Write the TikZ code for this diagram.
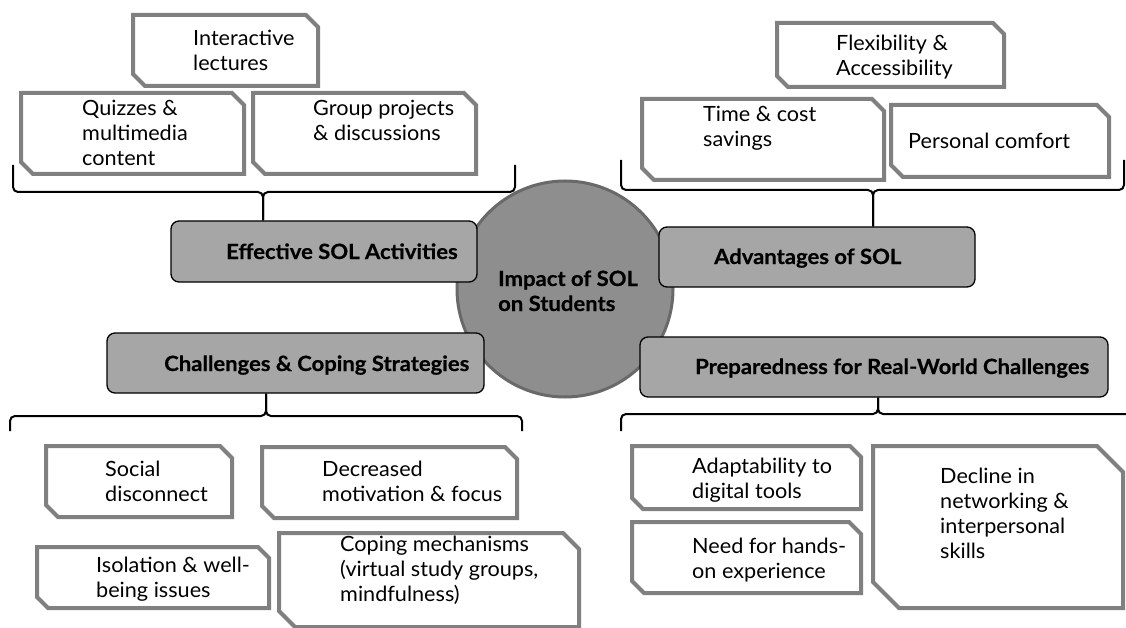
\documentclass[tikz,border=0pt]{standalone}
\usepackage{fontspec}
\setmainfont{Lato}[FakeStretch=1.03]
\newfontfamily\headfont{Lato}[FakeStretch=1.05, BoldFeatures={FakeBold=0.5}]
\usetikzlibrary{calc}
\definecolor{snipline}{RGB}{128,128,128}
\definecolor{headfill}{RGB}{166,166,166}
\definecolor{hubfill}{RGB}{142,142,142}
\definecolor{hubline}{RGB}{105,105,105}
% lines stacked in a \vtop, so the baseline is the first line's
\newcommand\stacklines[1]{\vtop{\def\\{\egroup\hbox\bgroup}\hbox{#1}}}
% white box with the top-right and bottom-left corners snipped off
\newcommand\snipbox[5]{\draw[snip] (#1,#2) -- ({#3-#5},#2) -- (#3,{#2+#5}) -- (#3,#4) -- ({#1+#5},#4) -- (#1,{#4-#5}) -- cycle;}
\begin{document}
\begin{tikzpicture}[x=1pt,y=-1pt,
  snip/.style={draw=snipline, line width=4pt, fill=white, line join=miter},
  head/.style={draw=black, line width=1.3pt, fill=headfill, rounded corners=8pt, inner sep=0pt},
  brace/.style={draw=black, line width=2pt, rounded corners=5pt},
  txt/.style={inner sep=0pt, anchor=base west, font=\fontsize{21}{25}\selectfont},
  btxt/.style={inner sep=0pt, anchor=base west, font=\headfont\bfseries\fontsize{21}{25}\selectfont}]
\useasboundingbox (0,0) rectangle (1126,628);

% central hub
\node[circle, draw=hubline, line width=3pt, fill=hubfill, minimum size=216pt, inner sep=0pt] (hub) at (565,289) {};

% the four topic boxes
\node[head, minimum width=306pt, minimum height=61pt] (eff) at (324,251.5) {};
\node[head, minimum width=316pt, minimum height=60pt] (adv) at (817,257) {};
\node[head, minimum width=377pt, minimum height=60pt] (chal) at (295.5,363) {};
\node[head, minimum width=468pt, minimum height=60pt] (prep) at (874,367) {};

\node[btxt] (hubtext) at (498,286) {\stacklines{Impact of SOL\\on Students}};
\node[btxt] (efftext) at (226,259) {Effective SOL Activities};
\node[btxt] (advtext) at (714,264) {Advantages of SOL};
\node[btxt] (chaltext) at (164,371) {Challenges \& Coping Strategies};
\node[btxt] (preptext) at (695,374) {Preparedness for Real-World Challenges};

% effective activities
\snipbox{133}{15}{318}{86}{12}
\node[txt] (lect) at (193,46) {\stacklines{Interactive\\lectures}};
\snipbox{21}{93}{244}{174}{12}
\node[txt] (quiz) at (82,116) {\stacklines{Quizzes \&\\multimedia\\content}};
\snipbox{253}{93}{476}{174}{12}
\node[txt] (group) at (313,116) {\stacklines{Group projects\\\& discussions}};

% advantages
\snipbox{777}{23}{1004}{87}{11}
\node[txt] (flex) at (836,51) {\stacklines{Flexibility \&\\Accessibility}};
\snipbox{642}{99}{884}{180}{12}
\node[txt] (cost) at (703,122) {\stacklines{Time \& cost\\savings}};
\snipbox{891}{105}{1109}{177}{12}
\node[txt] (comfort) at (908,149) {Personal comfort};

% challenges
\snipbox{46}{446}{232}{517}{12}
\node[txt] (social) at (105,476) {\stacklines{Social\\disconnect}};
\snipbox{262}{447}{517}{518}{12}
\node[txt] (motiv) at (322,476) {\stacklines{Decreased\\motivation \& focus}};
\snipbox{37}{547}{269}{608}{11}
\node[txt] (isol) at (96,572) {\stacklines{Isolation \& well-\\being issues}};
\snipbox{279}{533}{579}{627}{16}
\node[txt] (coping) at (340,551) {\stacklines{Coping mechanisms\\(virtual study groups,\\mindfulness)}};

% preparedness
\snipbox{632}{446}{861}{509}{11}
\node[txt] (adapt) at (692,473) {\stacklines{Adaptability to\\digital tools}};
\snipbox{632}{522}{861}{593}{12}
\node[txt] (hands) at (692,553) {\stacklines{Need for hands-\\on experience}};
\snipbox{873}{446}{1123}{608}{26}
\node[txt] (decline) at (940,483) {\stacklines{Decline in\\networking \&\\interpersonal\\skills}};

% braces
\coordinate (braceA) at (263,192);
\draw[brace] (13,165) |- (braceA) -- (braceA |- eff.north);
\draw[brace] (515,165) |- (braceA) -- (braceA |- eff.north);
\coordinate (braceB) at (873,190);
\draw[brace] (621,160) |- (braceB) -- (braceB |- adv.north);
\draw[brace] (1124,160) |- (braceB) -- (braceB |- adv.north);
\coordinate (braceC) at (266,416);
\draw[brace] (10,431) |- (braceC) -- (braceC |- chal.south);
\draw[brace] (522,431) |- (braceC) -- (braceC |- chal.south);
\coordinate (braceD) at (878,414);
\draw[brace] (621,431) |- (braceD) -- (braceD |- prep.south);
\draw[brace] (1150,431) |- (braceD) -- (braceD |- prep.south);
\end{tikzpicture}
\end{document}
